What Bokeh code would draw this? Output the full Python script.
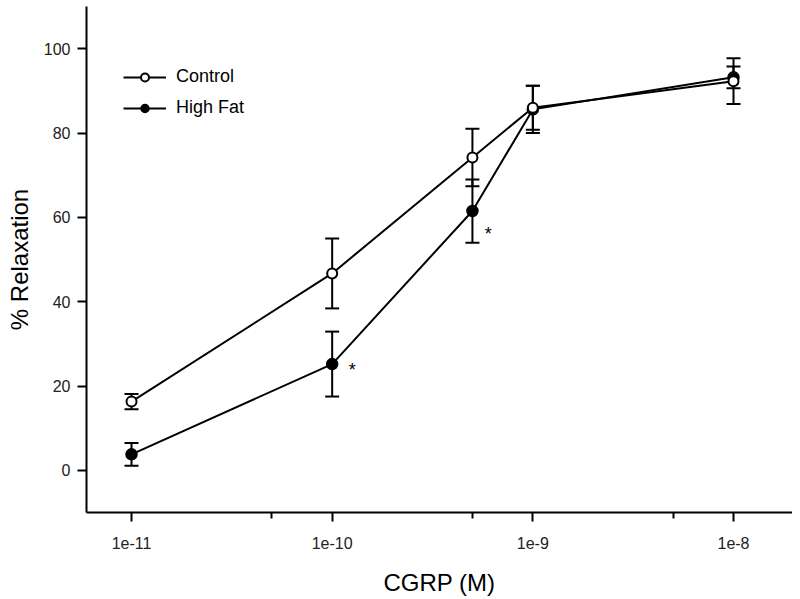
from bokeh.plotting import figure
from bokeh.models import (ColumnDataSource, Whisker, TeeHead, Range1d, FixedTicker,
                          CustomJSTickFormatter, Legend, LegendItem)
from bokeh.core.properties import value
from bokeh.embed import file_html
from bokeh.resources import INLINE

# ---- data ----
cgrp = [1e-11, 1e-10, 5e-10, 1e-9, 1e-8]
control = [16.3, 46.7, 74.2, 86.0, 92.3]
control_err = [1.8, 8.3, 6.8, 5.2, 5.4]
highfat = [3.8, 25.2, 61.5, 85.6, 93.2]
highfat_err = [2.7, 7.7, 7.5, 5.6, 2.6]
star_x = [1.26e-10, 6.0e-10]   # significance markers (*)
star_y = [23.7, 56.1]
x_ticks = [1e-11, 1e-10, 1e-9, 1e-8]
x_minor = [5e-11, 5e-10, 5e-9]
y_ticks = [0, 20, 40, 60, 80, 100]

FONT = "Liberation Sans"

p = figure(width=792, height=599, x_axis_type="log",
           x_range=Range1d(10 ** -11.2243, 10 ** -7.706),
           y_range=Range1d(-10, 110),
           output_backend="svg", toolbar_location=None,
           min_border_left=86, min_border_right=0, min_border_top=6,
           min_border_bottom=87)
p.outline_line_color = None
p.grid.visible = False
p.background_fill_color = "white"
p.border_fill_color = "white"

src_c = ColumnDataSource(dict(x=cgrp, y=control,
                              lo=[v - e for v, e in zip(control, control_err)],
                              hi=[v + e for v, e in zip(control, control_err)]))
src_h = ColumnDataSource(dict(x=cgrp, y=highfat,
                              lo=[v - e for v, e in zip(highfat, highfat_err)],
                              hi=[v + e for v, e in zip(highfat, highfat_err)]))

for src in (src_h, src_c):
    w = Whisker(base="x", upper="hi", lower="lo", source=src, dimension="height",
                line_color="black", line_width=2,
                upper_head=TeeHead(size=14, line_width=2, line_color="black"),
                lower_head=TeeHead(size=14, line_width=2, line_color="black"))
    p.add_layout(w)

hl = p.line("x", "y", source=src_h, line_color="black", line_width=2)
hs = p.scatter("x", "y", source=src_h, size=11, fill_color="black",
               line_color="black", line_width=1.5)
cl = p.line("x", "y", source=src_c, line_color="black", line_width=2)
cs = p.scatter("x", "y", source=src_c, size=10, fill_color="white",
               line_color="black", line_width=2)

star_src = ColumnDataSource(dict(x=star_x, y=star_y, t=["*" for _ in star_x]))
p.text("x", "y", text="t", source=star_src,
       text_font=value(FONT), text_font_size="18px", text_color="black",
       text_align="center", text_baseline="middle")

legend = Legend(items=[LegendItem(label="Control", renderers=[cl, cs]),
                       LegendItem(label="High Fat", renderers=[hl, hs])],
                location=(37, 394), padding=0, margin=0, spacing=10,
                glyph_width=43, glyph_height=20, label_height=20,
                label_standoff=10, border_line_color=None,
                background_fill_alpha=0,
                label_text_font=FONT, label_text_font_size="18px",
                label_text_color="black")
p.add_layout(legend, "center")

xa = p.xaxis[0]
xa.ticker = FixedTicker(ticks=x_ticks, minor_ticks=x_minor)
xa.formatter = CustomJSTickFormatter(code="return tick.toExponential().replace('+','');")
xa.axis_label = "CGRP (M)"

ya = p.yaxis[0]
ya.ticker = FixedTicker(ticks=y_ticks, minor_ticks=[])
ya.axis_label = "% Relaxation"

for ax in (xa, ya):
    ax.axis_line_width = 2
    ax.axis_line_color = "black"
    ax.major_tick_line_width = 2
    ax.minor_tick_line_width = 2
    ax.major_tick_in = 0
    ax.major_tick_out = 9
    ax.minor_tick_in = 0
    ax.minor_tick_out = 6
    ax.major_label_text_font = FONT
    ax.major_label_text_font_size = "16px"
    ax.major_label_text_color = "#222222"
    ax.axis_label_text_font = FONT
    ax.axis_label_text_font_size = "24px"
    ax.axis_label_text_font_style = "normal"
    ax.axis_label_text_color = "black"

xa.major_label_standoff = 15
xa.axis_label_standoff = 17
ya.major_label_standoff = 7
ya.axis_label_standoff = 8

open("out.html", "w").write(file_html(p, INLINE))
